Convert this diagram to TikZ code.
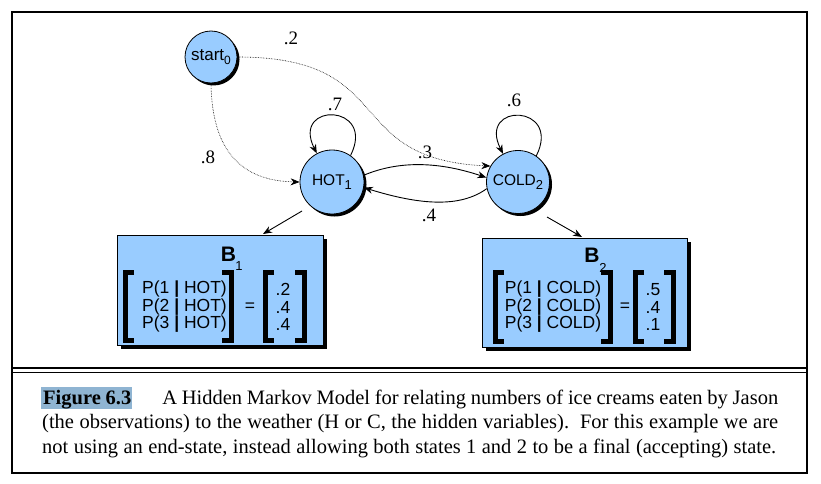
\documentclass[tikz,border=0pt]{standalone}
\usepackage{fontspec}
\setmainfont{Liberation Serif}
\setsansfont{Liberation Sans}
\usetikzlibrary{arrows.meta,shadows}
\definecolor{nodeblue}{RGB}{153,204,255}
\definecolor{caphl}{RGB}{143,180,210}
\begin{document}
\begin{tikzpicture}[x=1pt,y=-1pt,
  state/.style={circle, draw=black, line width=0.8pt, fill=nodeblue, inner sep=0pt,
    font=\sffamily\fontsize{15.5}{15.5}\selectfont,
    drop shadow={shadow xshift=2.5pt, shadow yshift=-2.5pt, opacity=1, fill=black}},
  boxnode/.style={rectangle, draw=black, line width=0.8pt, fill=nodeblue, inner sep=0pt,
    drop shadow={shadow xshift=4pt, shadow yshift=-4pt, opacity=1, fill=black}},
  prob/.style={font=\fontsize{19}{19}\selectfont, inner sep=0pt},
  trans/.style={line width=0.9pt, -{Stealth[length=9pt,width=7pt]}},
  dottrans/.style={line width=0.6pt, densely dotted, -{Stealth[length=9pt,width=7pt]}},
  brk/.style={line width=5pt, line cap=butt, line join=miter},
  mtx/.style={font=\sffamily\fontsize{17.5}{17.5}\selectfont, inner sep=0pt, align=left},
  ttl/.style={font=\sffamily\bfseries\fontsize{21}{21}\selectfont, inner sep=0pt},
  sub/.style={font=\sffamily\fontsize{13}{13}\selectfont, inner sep=0pt},
  capline/.style={font=\fontsize{20.5}{20.5}\selectfont, inner sep=0pt, anchor=base west}
]
\useasboundingbox (0,0) rectangle (821,484);
\fill[white] (0,0) rectangle (821,484);
% frame
\draw[line width=2pt] (12,12) rectangle (807,473);
\draw[line width=1.8pt] (12,368) -- (807,368);
\draw[line width=1.8pt] (12,372.5) -- (807,372.5);

% states
\node[state, minimum size=52pt, font=\sffamily\fontsize{17}{17}\selectfont] (start) at (211,57) {start\raisebox{-0.45ex}{\fontsize{12}{12}\selectfont 0}};
\node[state, minimum size=64pt] (hot) at (332,182) {HOT\raisebox{-0.5ex}{\fontsize{13}{13}\selectfont 1}};
\node[state, minimum size=63pt] (cold) at (518,182) {COLD\raisebox{-0.5ex}{\fontsize{13}{13}\selectfont 2}};

% transitions
\draw[dottrans] (start.south) .. controls (212,160) and (250,181) .. (hot.west);
\draw[dottrans] (start.east) .. controls (400,57) and (340,159) .. (cold.150);
\draw[trans] (hot.55) .. controls +(26,-52) and +(-26,-52) .. (hot.118);
\draw[trans] (cold.55) .. controls +(26,-52) and +(-26,-52) .. (cold.118);
\draw[trans] (hot.12) .. controls (400,160) and (440,162) .. (cold.172);
\draw[trans] (cold.192) .. controls (460,208) and (420,205) .. (hot.350);

% probability labels
\node[prob] (p2) at (291,38) {.2};
\node[prob] (p8) at (208,157) {.8};
\node[prob] (p7) at (335,104) {.7};
\node[prob] (p6) at (514,100) {.6};
\node[prob] (p3) at (425,152) {.3};
\node[prob] (p4) at (429,215) {.4};

% emission boxes
\node[boxnode, minimum width=206pt, minimum height=110pt] (b1) at (220,290) {};
\node[boxnode, minimum width=205pt, minimum height=109pt] (b2) at (584.5,292.5) {};

\coordinate (a1s) at (302,211);
\coordinate (a1e) at (263,234);
\coordinate (a2s) at (547,217);
\coordinate (a2e) at (582,237);
\draw[trans] (a1s) -- (a1e);
\draw[trans] (a2s) -- (a2e);

% B1 contents
\node[ttl] (b1t) at (228.5,254.5) {B};
\node[sub] (b1s) at (239,266) {1};
\draw[brk] (134,272) -- (125,272) -- (125,340) -- (134,340);
\node[mtx] (b1m) at (184.5,307) {P(1 \textbf{|} HOT)\\P(2 \textbf{|} HOT)\\P(3 \textbf{|} HOT)};
\draw[brk] (222,272) -- (231,272) -- (231,340) -- (222,340);
\node[mtx] (b1eq) at (250,307) {=};
\draw[brk] (274,272) -- (265,272) -- (265,340) -- (274,340);
\node[mtx] (b1v) at (283,307) {.2\\.4\\.4};
\draw[brk] (295,272) -- (304,272) -- (304,340) -- (295,340);

% B2 contents
\node[ttl] (b2t) at (592,255.5) {B};
\node[sub] (b2s) at (603,268) {2};
\draw[brk] (504,272) -- (495,272) -- (495,341) -- (504,341);
\node[mtx] (b2m) at (553,307) {P(1 \textbf{|} COLD)\\P(2 \textbf{|} COLD)\\P(3 \textbf{|} COLD)};
\draw[brk] (601,272) -- (610,272) -- (610,341) -- (601,341);
\node[mtx] (b2eq) at (625,307) {=};
\draw[brk] (644,272) -- (635,272) -- (635,341) -- (644,341);
\node[mtx] (b2v) at (653,307) {.5\\.4\\.1};
\draw[brk] (664,272) -- (673,272) -- (673,341) -- (664,341);

% caption
\fill[caphl] (41,387) rectangle (132,409);
\node[capline] (c1) at (43,404) {\hbox to 735pt{\textbf{Figure 6.3}\hspace{31pt}A Hidden Markov Model for relating numbers of ice creams eaten by Jason}};
\node[capline] (c2) at (42,428.5) {\hbox to 736pt{(the observations) to the weather (H or C, the hidden variables).\ \ For this example we are}};
\node[capline] (c3) at (42,453) {\hbox to 734pt{not using an end-state, instead allowing both states 1 and 2 to be a final (accepting) state.}};
\end{tikzpicture}
\end{document}
